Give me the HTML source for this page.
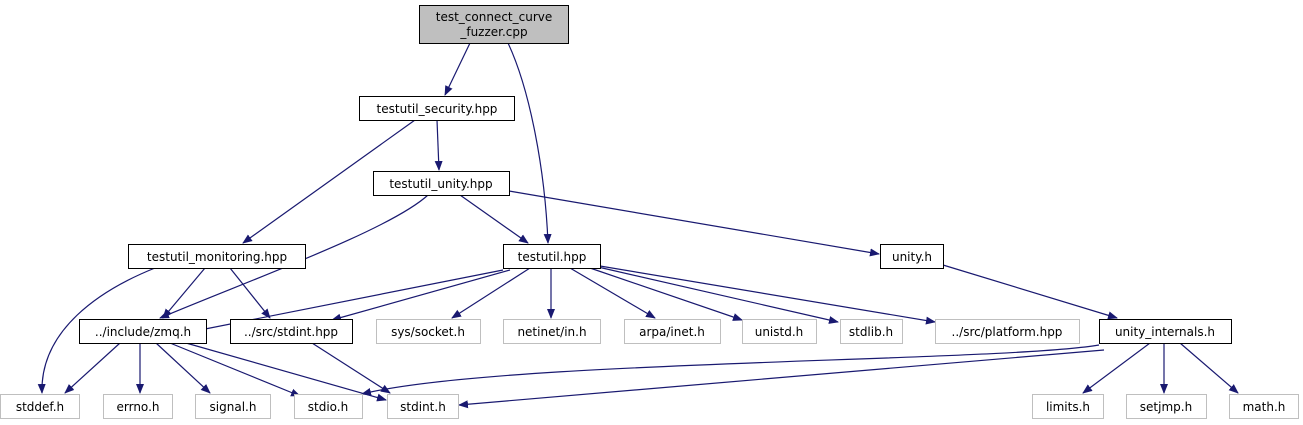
<!DOCTYPE html>
<html><head><meta charset="utf-8"><style>
html,body{margin:0;padding:0;background:#fff;width:1303px;height:425px;overflow:hidden}
text{font-family:"DejaVu Sans","Liberation Sans",sans-serif;font-size:12px;fill:#000}
</style></head><body>
<svg width="1303" height="425" viewBox="0 0 1303 425" xmlns="http://www.w3.org/2000/svg">
<defs><marker id="a" viewBox="0 0 10 10" refX="9" refY="5" markerWidth="10" markerHeight="10" markerUnits="userSpaceOnUse" orient="auto"><path d="M0,1 L10,5 L0,9 z" fill="#191970"/></marker></defs>
<g fill="none" stroke="#191970" stroke-width="1.2" marker-end="url(#a)">
<path d="M470,43 L445,95"/>
<path d="M508,43 C530,90 545,170 548,243"/>
<path d="M415,120 L243,243"/>
<path d="M437,120 L439,170"/>
<path d="M428,195 C390,230 250,280 160,318"/>
<path d="M460,195 L528,243"/>
<path d="M509,191 L879,254"/>
<path d="M155,268 C100,290 40,330 42,393"/>
<path d="M205,268 L163,318"/>
<path d="M230,268 L270,318"/>
<path d="M503,270 L190,332"/>
<path d="M510,270 L332,320"/>
<path d="M530,268 L452,318"/>
<path d="M551,268 L551,318"/>
<path d="M570,268 L655,318"/>
<path d="M590,268 L742,320"/>
<path d="M598,267 L838,322"/>
<path d="M600,266 L935,322"/>
<path d="M943,265 L1117,318"/>
<path d="M120,343 L65,393"/>
<path d="M140,343 L140,393"/>
<path d="M156,343 L210,393"/>
<path d="M170,343 L300,396"/>
<path d="M186,343 L386,400"/>
<path d="M312,343 L390,393"/>
<path d="M1099,345 C1000,362 500,360 362,394"/>
<path d="M1104,350 L459,405"/>
<path d="M1150,343 L1083,393"/>
<path d="M1164,343 L1164,393"/>
<path d="M1180,343 L1238,393"/>
</g>
<g stroke-width="1">
<rect x="419.5" y="5.5" width="149" height="38" fill="#bfbfbf" stroke="#000"/>
<text x="494" y="21" text-anchor="middle">test_connect_curve</text>
<text x="494" y="36" text-anchor="middle">_fuzzer.cpp</text>
<g fill="#fff" stroke="#000">
<rect x="359.5" y="96.5" width="155" height="24"/>
<rect x="373.5" y="171.5" width="136" height="24"/>
<rect x="128.5" y="244.5" width="177" height="24"/>
<rect x="503.5" y="244.5" width="97" height="24"/>
<rect x="880.5" y="244.5" width="63" height="24"/>
<rect x="79.5" y="319.5" width="127" height="24"/>
<rect x="230.5" y="319.5" width="122" height="24"/>
<rect x="1099.5" y="319.5" width="132" height="24"/>
</g>
<g fill="#fff" stroke="#bfbfbf">
<rect x="376.5" y="319.5" width="104" height="24"/>
<rect x="503.5" y="319.5" width="97" height="24"/>
<rect x="624.5" y="319.5" width="96" height="24"/>
<rect x="742.5" y="319.5" width="74" height="24"/>
<rect x="840.5" y="319.5" width="62" height="24"/>
<rect x="935.5" y="319.5" width="144" height="24"/>
<rect x="0.5" y="394.5" width="79" height="24"/>
<rect x="103.5" y="394.5" width="69" height="24"/>
<rect x="195.5" y="394.5" width="75" height="24"/>
<rect x="294.5" y="394.5" width="68" height="24"/>
<rect x="387.5" y="394.5" width="71" height="24"/>
<rect x="1032.5" y="394.5" width="71" height="24"/>
<rect x="1126.5" y="394.5" width="80" height="24"/>
<rect x="1229.5" y="394.5" width="69" height="24"/>
</g>
</g>
<g text-anchor="middle">
<text x="437" y="113">testutil_security.hpp</text>
<text x="441" y="188">testutil_unity.hpp</text>
<text x="217" y="261">testutil_monitoring.hpp</text>
<text x="552" y="261">testutil.hpp</text>
<text x="912" y="261">unity.h</text>
<text x="143" y="336">../include/zmq.h</text>
<text x="291" y="336">../src/stdint.hpp</text>
<text x="428" y="336">sys/socket.h</text>
<text x="552" y="336">netinet/in.h</text>
<text x="672" y="336">arpa/inet.h</text>
<text x="779" y="336">unistd.h</text>
<text x="871" y="336">stdlib.h</text>
<text x="1007" y="336">../src/platform.hpp</text>
<text x="1165" y="336">unity_internals.h</text>
<text x="40" y="411">stddef.h</text>
<text x="138" y="411">errno.h</text>
<text x="233" y="411">signal.h</text>
<text x="328" y="411">stdio.h</text>
<text x="423" y="411">stdint.h</text>
<text x="1068" y="411">limits.h</text>
<text x="1166" y="411">setjmp.h</text>
<text x="1264" y="411">math.h</text>
</g>
</svg>
</body></html>
